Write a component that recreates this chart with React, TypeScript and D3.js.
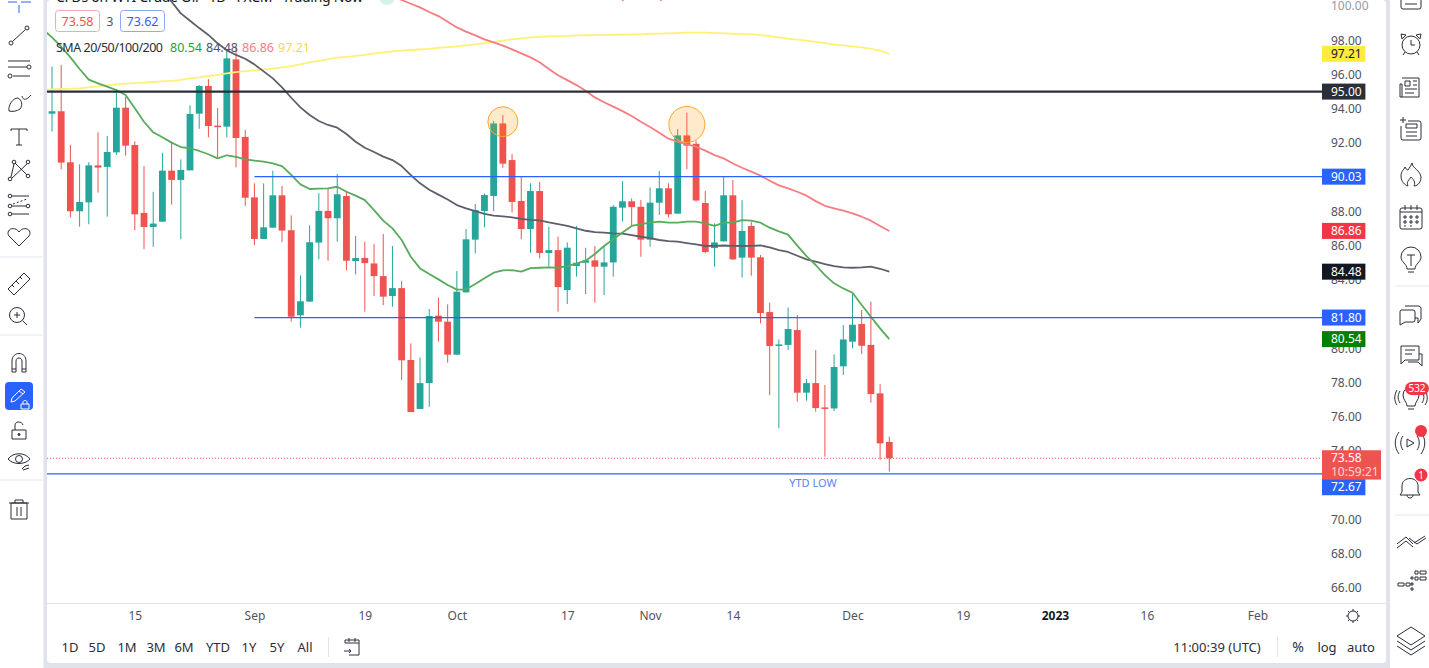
import React, { useEffect, useRef } from 'react';
import * as d3 from 'd3';

// daily candles, left to right
const opens = [
  93.71, 93.85, 90.87, 88.01, 88.53, 90.69, 90.6, 91.45, 94.06, 91.88,
  87.91, 87.09, 87.4, 90.38, 89.84, 90.4, 93.71, 95.33, 93.01, 92.95,
  96.88, 92.35, 88.82, 86.39, 87.05, 88.94, 86.9, 81.93, 82.73, 86.18,
  88.03, 87.6, 88.9, 85.1, 85.28, 84.96, 84.22, 83.06, 83.52, 79.32,
  76.46, 77.97, 81.91, 81.56, 79.63, 83.27, 86.35, 88.02, 88.9, 93.14,
  91.0, 88.61, 86.97, 89.19, 85.57, 85.74, 83.41, 84.81, 85.0, 85.14,
  84.77, 85.02, 88.22, 88.59, 88.27, 86.35, 88.51, 89.35, 87.87, 92.44,
  91.95, 88.49, 85.86, 86.25, 88.94, 85.3, 87.15, 85.32, 82.12, 80.14,
  80.2, 81.07, 77.41, 77.97, 76.55, 76.49, 78.95, 80.39, 81.42, 80.2,
  77.37, 74.53,
];
const closes = [
  93.85, 90.85, 88.01, 88.55, 90.69, 90.56, 91.47, 94.06, 91.84, 87.83,
  87.09, 87.29, 90.38, 89.84, 90.42, 93.69, 95.33, 92.99, 92.95, 96.94,
  92.29, 88.8, 86.39, 87.07, 88.94, 86.88, 81.85, 82.75, 86.2, 88.03,
  87.6, 89.0, 85.12, 85.28, 84.98, 84.22, 83.02, 83.52, 79.3, 76.28,
  77.97, 81.89, 81.56, 79.63, 83.31, 86.37, 88.08, 88.96, 93.14, 90.79,
  88.55, 86.97, 89.19, 85.57, 85.74, 83.58, 85.88, 85.0, 85.14, 84.77,
  85.02, 88.27, 88.59, 88.25, 86.35, 88.51, 89.35, 87.83, 92.44, 91.84,
  88.64, 85.63, 86.19, 88.94, 85.2, 86.86, 85.3, 82.06, 80.14, 80.23,
  81.13, 77.41, 77.97, 76.51, 76.47, 78.91, 80.52, 81.38, 80.15, 77.33,
  74.45, 73.58,
];
const highs = [
  96.46, 96.55, 91.88, 90.75, 90.87, 92.62, 92.41, 95.13, 94.7, 92.09,
  90.65, 89.15, 91.43, 92.09, 91.04, 94.2, 95.38, 95.72, 94.04, 97.43,
  97.62, 92.76, 89.64, 89.64, 90.38, 89.49, 87.77, 84.27, 87.19, 89.06,
  89.35, 90.19, 89.15, 86.58, 86.23, 86.09, 86.68, 85.98, 83.93, 80.29,
  79.47, 82.3, 82.96, 82.57, 84.52, 86.97, 88.43, 89.05, 93.28, 93.63,
  91.35, 90.07, 89.64, 89.72, 87.1, 86.52, 86.19, 87.15, 85.88, 85.98,
  85.94, 88.37, 89.77, 88.76, 88.66, 89.4, 90.36, 89.64, 92.81, 93.77,
  92.13, 89.19, 87.3, 90.07, 89.83, 88.66, 87.4, 85.45, 82.67, 80.52,
  82.38, 81.95, 78.21, 79.9, 77.86, 79.65, 81.36, 83.17, 82.24, 82.73,
  77.9, 74.84,
];
const lows = [
  92.66, 90.46, 87.64, 87.11, 87.25, 89.1, 87.69, 91.3, 91.26, 86.91,
  85.79, 85.94, 87.4, 88.4, 86.37, 90.4, 92.82, 92.33, 91.16, 92.33,
  90.58, 88.32, 86.04, 86.39, 87.05, 86.21, 81.56, 81.21, 82.73, 85.2,
  85.12, 86.23, 84.57, 84.32, 82.14, 83.06, 82.53, 82.43, 78.15, 76.28,
  76.46, 76.59, 80.39, 79.16, 79.63, 83.27, 85.55, 87.07, 88.02, 90.55,
  87.94, 86.37, 85.59, 85.26, 84.77, 82.14, 82.59, 84.19, 83.17, 82.67,
  83.11, 84.19, 87.4, 87.15, 85.35, 85.94, 87.79, 87.65, 87.87, 90.47,
  88.57, 85.55, 84.77, 86.25, 85.16, 84.13, 84.24, 81.46, 77.27, 75.33,
  79.9, 76.88, 76.94, 76.3, 73.67, 76.34, 78.44, 80.0, 79.67, 76.83,
  73.48, 72.8,
];

// moving averages, each one starts at the candle index given by its *Start
const sma20Start = -1;
const sma20 = [
  98.64, 98.17, 97.62, 97.0, 96.32, 95.7, 95.48, 95.29, 95.09, 94.8, 94.02, 93.24, 92.62, 92.33, 92.02, 91.76,
  91.69, 91.53, 91.34, 91.1, 91.28, 91.18, 91.04, 90.97, 90.91, 90.81, 90.65, 90.13, 89.58, 89.31, 89.33, 89.35,
  89.44, 89.15, 88.92, 88.66, 88.08, 87.46, 87.01, 86.33, 85.35, 84.67, 84.34, 84.03, 83.7, 83.43, 83.45, 83.76,
  84.09, 84.42, 84.55, 84.57, 84.48, 84.69, 84.71, 84.73, 84.71, 84.81, 84.95, 85.12, 85.51, 85.98, 86.37, 86.77,
  87.15, 87.26, 87.34, 87.4, 87.34, 87.34, 87.4, 87.4, 87.3, 87.15, 87.34, 87.34, 87.49, 87.46, 87.34, 87.05,
  86.83, 86.64, 86.0, 85.39, 84.87, 84.28, 83.8, 83.5, 83.25, 82.53, 81.85, 81.17, 80.54,
];
const sma50Start = 11;
const sma50 = [
  101.4, 100.84, 100.25, 99.57, 99.14, 98.71, 98.31, 97.82, 97.41, 97.14, 96.92, 96.59, 96.18, 95.77, 95.25, 94.64,
  94.08, 93.63, 93.28, 93.05, 92.89, 92.52, 92.07, 91.72, 91.47, 91.2, 91.0, 90.65, 90.12, 89.64, 89.27, 88.98,
  88.7, 88.37, 88.18, 88.02, 87.85, 87.75, 87.71, 87.65, 87.57, 87.51, 87.48, 87.36, 87.26, 87.15, 87.01, 86.87,
  86.79, 86.76, 86.72, 86.7, 86.62, 86.52, 86.44, 86.33, 86.27, 86.23, 86.15, 86.07, 85.98, 85.99, 86.01, 85.99,
  85.98, 85.99, 86.01, 85.9, 85.74, 85.63, 85.41, 85.2, 85.06, 84.92, 84.81, 84.73, 84.71, 84.73, 84.77, 84.65, 84.48,
];
const sma100Start = 37;
const sma100 = [
  100.58, 100.35, 100.13, 99.92, 99.65, 99.41, 99.08, 98.75, 98.5, 98.28, 98.05, 97.87, 97.68, 97.47, 97.23, 97.0,
  96.71, 96.32, 95.95, 95.67, 95.38, 95.05, 94.66, 94.38, 94.12, 93.86, 93.57, 93.24, 92.93, 92.6, 92.25, 92.07,
  91.92, 91.78, 91.55, 91.29, 91.1, 90.8, 90.55, 90.32, 90.09, 89.79, 89.52, 89.35, 89.15, 88.92, 88.6, 88.33,
  88.18, 88.04, 87.89, 87.69, 87.46, 87.15, 86.86,
];
const sma200Start = -1;
const sma200 = [
  95.1, 95.13, 95.15, 95.17, 95.19, 95.25, 95.3, 95.36, 95.42, 95.46, 95.5, 95.52, 95.56, 95.6, 95.63, 95.69,
  95.77, 95.83, 95.91, 95.97, 96.06, 96.14, 96.2, 96.24, 96.3, 96.34, 96.41, 96.49, 96.59, 96.7, 96.8, 96.9,
  96.98, 97.02, 97.09, 97.15, 97.23, 97.29, 97.35, 97.39, 97.43, 97.46, 97.5, 97.56, 97.6, 97.64, 97.7, 97.76,
  97.83, 97.91, 97.97, 98.05, 98.11, 98.17, 98.2, 98.22, 98.24, 98.26, 98.28, 98.29, 98.3, 98.3, 98.32, 98.32,
  98.34, 98.34, 98.38, 98.39, 98.4, 98.42, 98.44, 98.44, 98.44, 98.42, 98.4, 98.38, 98.36, 98.34, 98.3, 98.24,
  98.17, 98.09, 98.03, 97.97, 97.91, 97.83, 97.74, 97.7, 97.64, 97.58, 97.5, 97.39, 97.21,
];

// 90, 82 and 72 sit fully under the price labels
const priceTicks = [66, 68, 70, 74, 76, 78, 80, 84, 86, 88, 92, 94, 96, 98, 100];
const timeTickIndex = [9, 22, 34, 44, 56, 65, 74, 87, 99, 109, 119, 131];
const timeTickLabels = ['15', 'Sep', '19', 'Oct', '17', 'Nov', '14', 'Dec', '19', '2023', '16', 'Feb'];

const lastPrice = 73.58;
const supportLevels = [90.03, 81.8];
const supportStartIndex = 22;
const fullLevels = [95, 72.67];
const peakIndex = [49, 69];
const peakPrice = [93.24, 93.08];
const peakRadius = [15, 18];

const priceLabels = [97.21, 95, 90.03, 86.86, 84.48, 81.8, 80.54, 72.67];
const labelFills = ['#ffeb3b', '#2a2e39', '#2962ff', '#f23645', '#131722', '#2962ff', '#007f00', '#2962ff'];
const labelInk = ['#131722', '#fff', '#fff', '#fff', '#fff', '#fff', '#fff', '#fff'];
// the 72.67 label gets pushed below the last price box
const labelNudge = [0, 0, 0, 0, 0, 0, 0, 13.4];

const rangeButtons = ['1D', '5D', '1M', '3M', '6M', 'YTD', '1Y', '5Y', 'All'];
const rangeButtonX = [70, 97, 127, 156, 184, 218, 249, 277, 305];

const UP = '#26a69a';
const DOWN = '#ef5350';
const BLUE = '#2962ff';
const FONT = "'Noto Sans', sans-serif";
const INK = '#2a2e39';

const Icon: React.FC<{ x: number; y: number; children: React.ReactNode }> = ({ x, y, children }) => (
  <g transform={`translate(${x},${y})`} fill="none" stroke={INK} strokeWidth={1}>
    {children}
  </g>
);

const LeftTools = () => (
  <g>
    <path d="M8 2H17M21 2H31M19 5V13" stroke={BLUE} fill="none" />
    <Icon x={19} y={36}>
      <circle cx={-8} cy={7} r={2} /><circle cx={8} cy={-8} r={2} /><path d="M-6.500 5.500L6.500-6.500" />
    </Icon>
    <Icon x={19} y={68}>
      <path d="M-11-7H11M-11-1H8M-6 8H11" /><circle cx={10} cy={-1} r={2} /><circle cx={-9} cy={8} r={2} />
    </Icon>
    <Icon x={19} y={103}>
      <path d="M-10 8C-11 2-6-5-1-5C3-3 4 2 1 6C-2 8-6 9-10 8Z" /><path d="M3-7C4-2 8-3 12-8" />
    </Icon>
    <Icon x={19} y={137}>
      <path d="M-8-6V-8H8V-6M0-8V8M-3 8H3" />
    </Icon>
    <Icon x={19} y={170}>
      <circle cx={-9} cy={9} r={1.800} /><circle cx={-5} cy={-8} r={1.800} /><circle cx={9} cy={-8} r={1.800} /><circle cx={9} cy={6} r={1.800} />
      <path d="M-8 7L-5-6M-4-7L8 5M8-6L-7 8M-4-8" />
    </Icon>
    <Icon x={19} y={205}>
      <circle cx={-9} cy={-9} r={1.800} /><circle cx={-9} cy={1} r={1.800} /><circle cx={-9} cy={9} r={1.800} /><circle cx={9} cy={1} r={1.800} />
      <path d="M-7-9H10M-7 1H7M-7 9H10" /><path d="M-6-1L8-6" strokeDasharray="2 2" />
    </Icon>
    <Icon x={19} y={237}>
      <path d="M0 9L-10-1C-14-7-5-12 0-5C5-12 14-7 10-1Z" />
    </Icon>
    <path d="M0 257H43M0 335H43M0 480H43" stroke="#f0f3fa" strokeWidth={2} />
    <Icon x={19} y={284}>
      <path d="M-11 5L5-11L11-5L-5 11ZM-7 1L-5 3M-3-3L0 0M1-7L3-5M5-10" />
    </Icon>
    <Icon x={18} y={316}>
      <circle cx={-1} cy={-1} r={7.500} /><path d="M4.500 4.500L9 9M-1-4V2M-4-1H2" />
    </Icon>
    <Icon x={19} y={363}>
      <path d="M-7 9V-2C-7-12 7-12 7-2V9H3V-2C3-6-3-6-3-2V9ZM-7 6H-3M3 6H7" />
    </Icon>
    <rect x={5} y={382} width={28} height={28} rx={4} fill={BLUE} />
    <g fill="none" stroke="#fff">
      <path d="M11 402L12 398L21 389L25 392L15 401ZM19 391L23 394" />
      <path d="M21 404H29V409H21ZM23 404V402C23 400 27 400 27 402V404" />
    </g>
    <Icon x={19} y={431}>
      <path d="M-7-1H7V8H-7ZM-4-1V-6C-4-10 3-10 4-6" /><circle cx={0} cy={3.500} r={1} fill={INK} />
    </Icon>
    <Icon x={19} y={461}>
      <path d="M-11-2C-6-9 6-9 11-2C6 4-6 4-11-2Z" /><circle cx={0} cy={-2} r={3.500} /><path d="M3 8L6 5L10 4M4 9L10 7" />
    </Icon>
    <Icon x={19} y={510}>
      <path d="M-8-7H8V9H-8ZM-10-7H10M-4-7V-10H4V-7M-2-3V6M2-3V6" />
    </Icon>
  </g>
);

const RightTools = () => (
  <g>
    <Icon x={1411} y={2}>
      <path d="M-10-8V5A2 2 0 0 0-8 7H8A2 2 0 0 0 10 5V-8M-6-3H6M-6 2H6" />
    </Icon>
    <Icon x={1411} y={44}>
      <circle cx={0} cy={1} r={9} /><path d="M0-4V1H4M-9-5L-5-9L-10-10ZM9-5L5-9L10-10ZM-6 8L-8 11M6 8L8 11" />
    </Icon>
    <Icon x={1411} y={88}>
      <path d="M-9-10H8V9H-11V-4H-9V9M-6-7H-1V-2H-6ZM2-7H6M2-3H6M-6 1H6M-6 5H3" />
    </Icon>
    <Icon x={1411} y={130}>
      <path d="M-11-10H-5M-8-13V-7M-3-9H8A2 2 0 0 1 10-7V8A2 2 0 0 1 8 10H-8A2 2 0 0 1-10 8V-4M-5-6H6V-2H-5ZM-5 2H6M-5 6H6" />
    </Icon>
    <Icon x={1411} y={175}>
      <path d="M1-12C2-6 9-5 10 2C10 9 5 11 3 11C5 7 2 4 0 2C-2 5-5 7-3 11C-6 10-10 7-10 1C-10-4-7-5-6-8C-5-6-4-5-3-5C-2-7 0-9 1-12Z" />
    </Icon>
    <Icon x={1411} y={218}>
      <rect x={-11} y={-10} width={22} height={21} rx={2} />
      <path d="M-11-6H11M-6-13V-8M0-13V-8M6-13V-8" />
      <path d="M-7-2h2v2h-2zM-1-2h2v2h-2zM5-2h2v2h-2zM-7 3h2v2h-2zM-1 3h2v2h-2zM5 3h2v2h-2zM-7 8h2M-1 8h2" />
    </Icon>
    <Icon x={1411} y={260}>
      <path d="M-4 9C-4 4-10 2-10-3A10 10 0 0 1 10-3C10 2 4 4 4 9ZM-3 12H3M-4-5H4M0-5V6" />
    </Icon>
    <path d="M1395 286H1429M1395 515H1429" stroke="#f0f3fa" strokeWidth={2} />
    <Icon x={1411} y={314}>
      <path d="M-6-8H8A3 3 0 0 1 10-6V5L7 9V4H4M-10-4H2A2 2 0 0 1 4-2V6A2 2 0 0 1 2 8H-6L-11 11V-2A2 2 0 0 1-10-4Z" />
    </Icon>
    <Icon x={1411} y={355}>
      <path d="M-10-9H8V5H-6L-10 9ZM-6-5H4M-6-1H1M8-1H11V11L7 7H-3" />
    </Icon>
    <Icon x={1411} y={398}>
      <path d="M-4 8C-4 4-8 2-8-3A8 8 0 0 1 8-3C8 2 4 4 4 8ZM-3 11H3M-11-7C-14-2-13 2-11 5M11-7C14-2 13 2 11 5M-14-8C-17-3-17 3-14 7M14-8C17-3 17 3 14 7" />
    </Icon>
    <rect x={1405} y={382} width={24} height={13} rx={6.500} fill="#f23645" />
    <text x={1417} y={392} textAnchor="middle" fontFamily={FONT} fontSize={10} fill="#fff">532</text>
    <Icon x={1410} y={443}>
      <path d="M-3-4L4 0L-3 4ZM-7-7C-10-3-10 3-7 7M7-7C10-3 10 3 7 7M-11-11C-16-4-16 4-11 11M11-11C16-4 16 4 11 11" />
    </Icon>
    <circle cx={1421} cy={431} r={6} fill="#f23645" />
    <Icon x={1410} y={487}>
      <path d="M-8 5V-1C-8-11 8-11 8-1V5L10 8H-10ZM-3 8C-3 12 3 12 3 8" />
    </Icon>
    <circle cx={1421} cy={475} r={6.500} fill="#f23645" />
    <text x={1421} y={479} textAnchor="middle" fontFamily={FONT} fontSize={10} fill="#fff">1</text>
    <Icon x={1411} y={541}>
      <path d="M-14 3L-5-4L2 3M3 2L14-5M-14 7L-5 0L2 6M-2-3L6 3L15-3" />
    </Icon>
    <Icon x={1411} y={580}>
      <path d="M-13 3h6v3h-6zM-5 3h4v3h-4zM4-9h3v3h-3zM9-9h6v3h-6zM4-3h3v3h-3zM9-3h6v3h-6zM0 3h2v2h-2zM0-3h2v2h-2zM0 8h2v2h-2z" />
    </Icon>
    <Icon x={1411} y={638}>
      <path d="M-14-2L0-11L14-2L0 7ZM-14 3L0 12L14 3M-14 8L0 17L14 8" />
    </Icon>
  </g>
);

const App: React.FC = () => {
  const chartRef = useRef<SVGGElement>(null);

  useEffect(() => {
    if (!chartRef.current) return;
    const root = d3.select(chartRef.current);
    root.selectAll('*').remove();

    const x = d3.scaleLinear().domain([0, 91]).range([52, 889.3]);
    const y = d3.scaleLinear().domain([66, 100]).range([588, 6]);
    const paneRight = 1322;

    const pane = root.append('g').attr('clip-path', 'url(#pane)');

    // Candles
    const candles = pane.selectAll('g.candle')
      .data(opens.map((open, i) => ({ i, open, close: closes[i], high: highs[i], low: lows[i] })))
      .join('g')
      .attr('class', 'candle')
      .attr('fill', d => (d.close >= d.open ? UP : DOWN))
      .attr('stroke', d => (d.close >= d.open ? UP : DOWN));

    candles.append('line')
      .attr('x1', d => x(d.i))
      .attr('x2', d => x(d.i))
      .attr('y1', d => y(d.high))
      .attr('y2', d => y(d.low))
      .attr('stroke-width', 1);

    candles.append('rect')
      .attr('x', d => x(d.i) - 3.4)
      .attr('width', 6.8)
      .attr('y', d => y(Math.max(d.open, d.close)))
      .attr('height', d => Math.max(1.5, Math.abs(y(d.open) - y(d.close))))
      .attr('stroke', 'none');

    // Moving averages
    const line = d3.line<number>().y(d => y(d));
    const drawSma = (values: number[], start: number, color: string) => {
      pane.append('path')
        .datum(values)
        .attr('fill', 'none')
        .attr('stroke', color)
        .attr('stroke-width', 1.8)
        .attr('stroke-linejoin', 'round')
        .attr('d', line.x((_, i) => x(start + i)));
    };
    drawSma(sma200, sma200Start, '#fff176');
    drawSma(sma100, sma100Start, '#f77c80');
    drawSma(sma50, sma50Start, '#5d606b');
    drawSma(sma20, sma20Start, '#57ab5a');

    // Horizontal drawings
    pane.append('line')
      .attr('x1', 47).attr('x2', paneRight)
      .attr('y1', y(lastPrice)).attr('y2', y(lastPrice))
      .attr('stroke', DOWN).attr('stroke-width', 1).attr('stroke-dasharray', '1 2');

    pane.selectAll('line.support')
      .data(supportLevels)
      .join('line')
      .attr('class', 'support')
      .attr('x1', x(supportStartIndex)).attr('x2', paneRight)
      .attr('y1', d => y(d)).attr('y2', d => y(d))
      .attr('stroke', BLUE).attr('stroke-width', 1.2);

    pane.selectAll('line.full')
      .data(fullLevels)
      .join('line')
      .attr('class', 'full')
      .attr('x1', 47).attr('x2', paneRight)
      .attr('y1', d => y(d)).attr('y2', d => y(d))
      .attr('stroke', d => (d === 95 ? '#2a2e39' : BLUE))
      .attr('stroke-width', d => (d === 95 ? 2.4 : 1.2));

    pane.append('text')
      .attr('x', 813).attr('y', y(72.67) + 13.5)
      .attr('text-anchor', 'middle')
      .attr('font-family', FONT).attr('font-size', 11)
      .attr('fill', '#5b82f5')
      .text('YTD LOW');

    // Marked peaks
    pane.selectAll('circle.peak')
      .data(peakIndex)
      .join('circle')
      .attr('class', 'peak')
      .attr('cx', d => x(d))
      .attr('cy', (_, i) => y(peakPrice[i]))
      .attr('r', (_, i) => peakRadius[i])
      .attr('fill', 'rgba(255,152,0,0.2)')
      .attr('stroke', '#ffa726')
      .attr('stroke-width', 1);

    // Price axis
    const yAxis = root.append('g')
      .attr('transform', `translate(${paneRight},0)`)
      .call(d3.axisRight(y).tickValues(priceTicks).tickFormat(d3.format('.2f')).tickSize(0).tickPadding(9));
    yAxis.select('.domain').remove();
    yAxis.selectAll('text').attr('font-family', FONT).attr('font-size', 12).attr('fill', '#50535e');
    yAxis.selectAll<SVGGElement, number>('.tick').filter(d => d === 100).attr('opacity', 0.6);

    // Time axis
    const xAxis = root.append('g')
      .attr('transform', 'translate(0,603)')
      .call(d3.axisBottom(x).tickValues(timeTickIndex)
        .tickFormat((_, i) => timeTickLabels[i]).tickSize(0).tickPadding(8));
    xAxis.select('.domain').remove();
    xAxis.selectAll<SVGTextElement, number>('text')
      .attr('font-family', FONT).attr('font-size', 12)
      .attr('fill', d => (d === 109 ? '#131722' : '#50535e'))
      .attr('font-weight', d => (d === 109 ? 700 : 400));

    // Last price box with countdown
    const last = root.append('g').attr('transform', `translate(${paneRight},${y(lastPrice)})`);
    last.append('rect')
      .attr('y', -8).attr('width', 59).attr('height', 29.3).attr('fill', DOWN);
    last.append('text')
      .attr('x', 9).attr('dy', '0.34em')
      .attr('font-family', FONT).attr('font-size', 12).attr('fill', '#fff')
      .text(d3.format('.2f')(lastPrice));
    last.append('text')
      .attr('x', 9).attr('y', 14).attr('dy', '0.34em')
      .attr('font-family', FONT).attr('font-size', 12).attr('fill', '#fff').attr('fill-opacity', 0.75)
      .text('10:59:21');

    // Price labels on the axis
    const labels = root.selectAll('g.price-label')
      .data(priceLabels)
      .join('g')
      .attr('class', 'price-label')
      .attr('transform', (d, i) => `translate(${paneRight},${y(d) + labelNudge[i]})`);
    labels.append('rect')
      .attr('y', -8).attr('width', 43.4).attr('height', 16)
      .attr('fill', (_, i) => labelFills[i]);
    labels.append('text')
      .attr('x', 9).attr('dy', '0.34em')
      .attr('font-family', FONT).attr('font-size', 12)
      .attr('fill', (_, i) => labelInk[i])
      .text(d => d3.format('.2f')(d));
  }, []);

  return (
    <svg
      width={1429}
      height={668}
      viewBox="0 0 1429 668"
      style={{ position: 'fixed', left: 0, top: 0, display: 'block', background: '#e0e3eb' }}
    >
      <defs>
        <clipPath id="pane"><rect x={47} y={0} width={1275} height={603} /></clipPath>
      </defs>

      <rect x={0} y={0} width={43.500} height={668} fill="#fff" />
      <rect x={47} y={0} width={1339} height={663} rx={4} fill="#fff" />
      <rect x={1390} y={0} width={39} height={668} fill="#fff" />
      <path d="M47 603.500H1386" stroke="#e0e3eb" />

      <LeftTools />
      <RightTools />

      {/* header clipped by the top of the screenshot */}
      <text x={56} y={2} fontFamily={FONT} fontSize={14} fill="#131722" textLength={307}>
        CFDs on WTI Crude Oil · 1D · FXCM · Trading Now
      </text>
      <circle cx={387} cy={-3} r={8} fill="#d5f0ed" />
      <text x={620} y={-2} fontFamily={FONT} fontSize={14} fill={DOWN} textLength={44}>(-1.09%)</text>

      <rect x={55.500} y={10.500} width={44} height={21} rx={3} fill="#fff" stroke="#f7a9a7" />
      <text x={77.500} y={25.500} textAnchor="middle" fontFamily={FONT} fontSize={12.500} fill={DOWN}>73.58</text>
      <text x={110} y={25.500} textAnchor="middle" fontFamily={FONT} fontSize={12} fill="#50535e">3</text>
      <rect x={120.500} y={10.500} width={44} height={21} rx={3} fill="#fff" stroke="#8fa9f7" />
      <text x={142.500} y={25.500} textAnchor="middle" fontFamily={FONT} fontSize={12.500} fill={BLUE}>73.62</text>

      <g ref={chartRef} />

      <g fontFamily={FONT} fontSize={12.500}>
        <text x={56} y={52} fill="#2a2e39" textLength={107}>SMA 20/50/100/200</text>
        <text x={170} y={52} fill="#2e9c34">80.54</text>
        <text x={206} y={52} fill="#50535e">84.48</text>
        <text x={242} y={52} fill="#f77c80">86.86</text>
        <text x={278} y={52} fill="#f5d94e">97.21</text>
      </g>

      {/* bottom toolbar */}
      <g fontFamily={FONT} fontSize={13} fill="#2a2e39" textAnchor="middle">
        {rangeButtons.map((label, i) => (
          <text key={label} x={rangeButtonX[i]} y={652}>{label}</text>
        ))}
        <text x={1217} y={652}>11:00:39 (UTC)</text>
        <text x={1298} y={652} fontSize={14}>%</text>
        <text x={1327} y={652}>log</text>
        <text x={1361} y={652}>auto</text>
      </g>
      <path d="M328.500 637V657M1277.500 637V657" stroke="#e0e3eb" />
      <Icon x={352} y={647}>
        <path d="M-7-4V-7H7V8H-3M-7-4H7M-3-9V-5M3-9V-5M-8 4H-1M-3 2L-1 4L-3 6" />
      </Icon>
      <Icon x={1353} y={616}>
        <circle cx={0} cy={0} r={5} />
        <path d="M0-7V-5M0 5V7M-7 0H-5M5 0H7M-5-5L-3.500-3.500M3.500 3.500L5 5M-5 5L-3.500 3.500M3.500-3.500L5-5" />
      </Icon>
    </svg>
  );
};

export default App;
